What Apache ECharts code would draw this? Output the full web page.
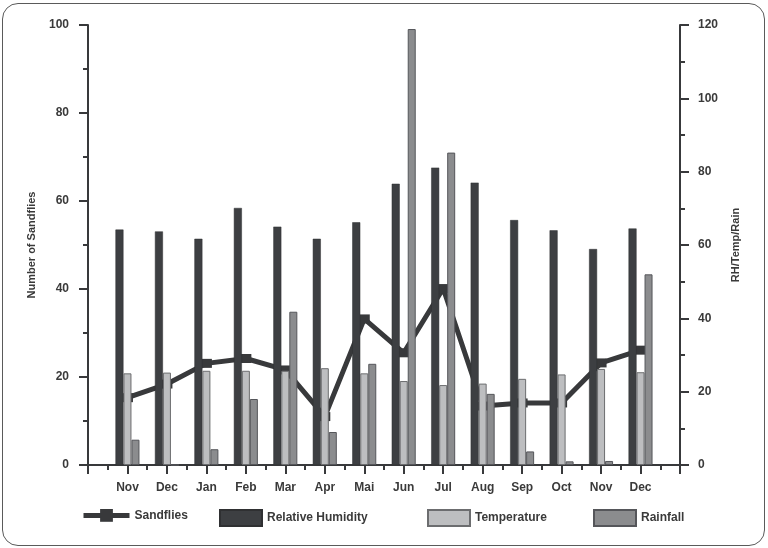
<!DOCTYPE html>
<html>
<head>
<meta charset="utf-8">
<script src="https://cdn.jsdelivr.net/npm/echarts@6/dist/echarts.min.js"></script>
<style>
  html, body { margin: 0; padding: 0; background: #fff; }
  #frame { position: absolute; left: 2px; top: 3px; width: 763px; height: 543px; box-sizing: border-box;
           border: 1.5px solid #5a5a5a; border-radius: 16px; }
  #cnv { position: absolute; left: 0; top: 0; width: 768px; height: 548px; }
</style>
</head>
<body>
<div id="frame"></div>
<div id="cnv"></div>
<script>
// month labels (the axis has an empty slot at each end)
var months = ['Nov', 'Dec', 'Jan', 'Feb', 'Mar', 'Apr', 'Mai', 'Jun', 'Jul', 'Aug', 'Sep', 'Oct', 'Nov', 'Dec'];
var sandflies = [15.3, 18.4, 23.1, 24.2, 21.6, 11, 33.2, 25.5, 40.1, 13.4, 14.1, 14.1, 23.2, 26.1];
var humidity = [64.2, 63.7, 61.7, 70.1, 65.0, 61.7, 66.2, 76.7, 81.1, 77.0, 66.8, 64.0, 58.9, 64.5];
var temperature = [25.0, 25.2, 25.7, 25.7, 25.7, 26.4, 25.0, 22.9, 21.8, 22.2, 23.5, 24.7, 26.2, 25.3];
var rainfall = [6.9, 0, 4.3, 18.0, 41.8, 9.0, 27.6, 118.9, 85.2, 19.4, 3.7, 1.0, 1.1, 52.0];
var leftTicks = [0, 20, 40, 60, 80, 100];
var rightTicks = [0, 20, 40, 60, 80, 100, 120];

function pad(arr) { return [null].concat(arr, [null]); }

var cats = [''].concat(months, [' ']);
var halfCats = [];
for (var i = 0; i < cats.length * 2 - 1; i++) halfCats.push('h' + i);

var axisCol = '#38393b';
var txt = { color: '#3a3a3a', fontWeight: 'bold', fontFamily: 'Liberation Sans, Arial, sans-serif' };

var main = document.getElementById('cnv');
var myechart = echarts.init(main);

function legendAt(name, left, w, h, icon) {
    var lg = {
        data: [icon ? { name: name, icon: icon } : name], left: left, top: 509, padding: 0,
        itemWidth: w, itemHeight: h,
        textStyle: { color: '#3a3a3a', fontWeight: 'bold', fontSize: 12, fontFamily: 'Liberation Sans, Arial, sans-serif' },
        selectedMode: false
    };
    return lg;
}

var option = {
    animation: false,
    backgroundColor: 'transparent',
    grid: { left: 88, right: 88, top: 25, bottom: 83 },
    legend: [
        Object.assign(legendAt('Sandflies', 81, 46, 16), { lineStyle: { width: 5 } }),
        legendAt('Relative Humidity', 219, 42, 16, 'rect'),
        legendAt('Temperature', 427, 42, 16, 'rect'),
        legendAt('Rainfall', 593, 42, 16, 'rect')
    ],
    xAxis: [{
        type: 'category', data: cats, boundaryGap: false,
        axisLine: { lineStyle: { color: axisCol, width: 2 } },
        axisTick: { show: true, interval: 0, length: 9, lineStyle: { color: axisCol, width: 2 } },
        axisLabel: Object.assign({ interval: 0, fontSize: 12, margin: 17 }, txt)
    }, {
        type: 'category', data: halfCats, boundaryGap: false, position: 'bottom',
        axisLine: { show: false },
        axisTick: { show: true, interval: 0, length: 5, lineStyle: { color: axisCol, width: 2 } },
        axisLabel: { show: false }
    }],
    yAxis: [{
        type: 'value', min: leftTicks[0], max: leftTicks[leftTicks.length - 1], interval: 20,
        name: 'Number of Sandflies', nameLocation: 'middle', nameGap: 51, nameRotate: 90,
        nameTextStyle: Object.assign({ fontSize: 11 }, txt),
        axisLine: { show: true, lineStyle: { color: axisCol, width: 2 } },
        axisTick: { show: true, length: 9, lineStyle: { color: axisCol, width: 2 } },
        minorTick: { show: true, splitNumber: 2, length: 5, lineStyle: { color: axisCol, width: 2 } },
        splitLine: { show: false },
        axisLabel: Object.assign({ fontSize: 12, margin: 19 }, txt)
    }, {
        type: 'value', min: rightTicks[0], max: rightTicks[rightTicks.length - 1], interval: 20,
        name: 'RH/Temp/Rain', nameLocation: 'middle', nameGap: 50, nameRotate: 90,
        nameTextStyle: Object.assign({ fontSize: 11 }, txt),
        axisLine: { show: true, lineStyle: { color: axisCol, width: 2 } },
        axisTick: { show: true, length: 9, lineStyle: { color: axisCol, width: 2 } },
        minorTick: { show: true, splitNumber: 2, length: 5, lineStyle: { color: axisCol, width: 2 } },
        splitLine: { show: false },
        axisLabel: Object.assign({ fontSize: 12, margin: 18 }, txt)
    }],
    series: [{
        name: 'Sandflies', type: 'line', yAxisIndex: 0, z: 1,
        data: pad(sandflies),
        symbol: 'rect', symbolSize: [11, 9],
        lineStyle: { color: '#38393b', width: 5 },
        itemStyle: { color: '#38393b' }
    }, {
        name: 'Relative Humidity', type: 'bar', yAxisIndex: 1,
        data: pad(humidity), barWidth: 8, barGap: '0%',
        itemStyle: { color: '#3d3f42', borderColor: '#2f3032', borderWidth: 0.5 }
    }, {
        name: 'Temperature', type: 'bar', yAxisIndex: 1,
        data: pad(temperature), barWidth: 8, barGap: '0%',
        itemStyle: { color: '#bdbec0', borderColor: '#6c6d6f', borderWidth: 1 }
    }, {
        name: 'Rainfall', type: 'bar', yAxisIndex: 1,
        data: pad(rainfall), barWidth: 8, barGap: '0%',
        itemStyle: { color: '#8b8c8e', borderColor: '#55565a', borderWidth: 1 }
    }]
}
myechart.setOption(option);
</script>
</body>
</html>
